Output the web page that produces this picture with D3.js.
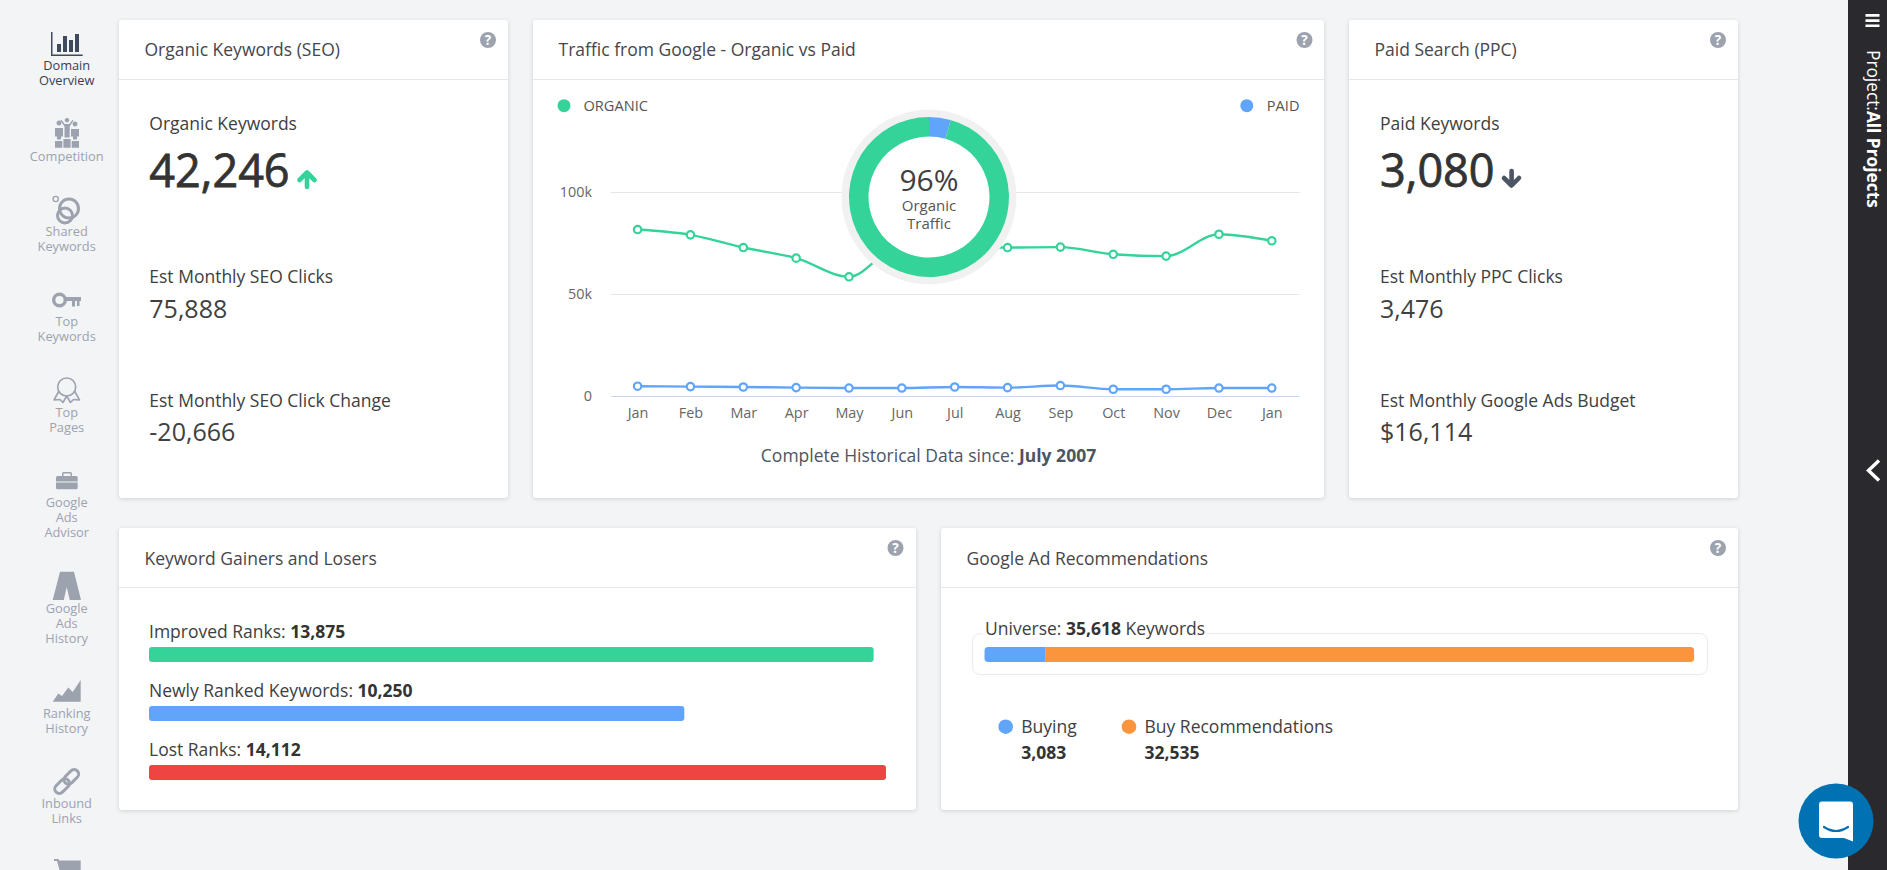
<!DOCTYPE html>
<html lang="en">

<head>
    <meta charset="UTF-8">
    <title>Domain Overview</title>
    <style>
        html, body {
            margin: 0;
            padding: 0;
            background: #f3f4f6;
            overflow: hidden;
        }

        svg {
            display: block;
            font-family: "Open Sans", sans-serif;
        }

        .card {
            fill: #fff;
            filter: drop-shadow(0 1px 2px rgba(0, 0, 0, 0.14));
        }

        .axis path {
            display: none;
        }

        .axis text {
            font-family: "Open Sans", sans-serif;
            font-size: 14.4px;
            fill: #666;
        }
    </style>
</head>

<body>
    <div id="chart"></div>

    <script src="https://d3js.org/d3.v7.min.js"></script>
    <script>
        // values
        const months = ['Jan', 'Feb', 'Mar', 'Apr', 'May', 'Jun', 'Jul', 'Aug', 'Sep', 'Oct', 'Nov', 'Dec', 'Jan'];
        const organicTraffic = [81400, 78800, 72600, 67400, 58300, 74000, 73500, 72600, 72800, 69300, 68400, 79100, 75900];
        const paidTraffic = [4800, 4600, 4400, 4100, 3900, 3900, 4400, 4100, 5100, 3300, 3300, 3900, 3900];
        const yTicks = [0, 50000, 100000];
        const donutLabels = ['paid', 'organic'];
        const donutValues = [3476, 75888];

        const rankLabels = ['Improved Ranks: ', 'Newly Ranked Keywords: ', 'Lost Ranks: '];
        const rankValues = [13875, 10250, 14112];

        const adLabels = ['Buying', 'Buy Recommendations'];
        const adValues = [3083, 32535];

        const navLabels = [
            ['Domain', 'Overview'], ['Competition'], ['Shared', 'Keywords'], ['Top', 'Keywords'], ['Top', 'Pages'],
            ['Google', 'Ads', 'Advisor'], ['Google', 'Ads', 'History'], ['Ranking', 'History'], ['Inbound', 'Links']
        ];

        const GREEN = '#34d399', BLUE = '#60a5fa', RED = '#ef4444', ORANGE = '#fb953c';
        const DARK = '#404040', GREY = '#9ca3af', SLATE = '#4b5563';
        const fmt = d3.format(',');

        const svg = d3.select('#chart').append('svg')
            .attr('width', 1887)
            .attr('height', 870);

        svg.append('rect').attr('width', 1887).attr('height', 870).attr('fill', '#f3f4f6');

        function addText(x, y, str, size, color, weight, anchor) {
            return svg.append('text')
                .attr('x', x).attr('y', y)
                .attr('font-size', size)
                .attr('fill', color || DARK)
                .attr('font-weight', weight || 400)
                .attr('text-anchor', anchor || 'start')
                .text(str);
        }

        function addCard(x0, x1, y0, y1, title, helpX, titleY) {
            svg.append('rect').attr('class', 'card')
                .attr('x', x0).attr('y', y0)
                .attr('width', x1 - x0).attr('height', y1 - y0)
                .attr('rx', 3);
            svg.append('line')
                .attr('x1', x0).attr('x2', x1)
                .attr('y1', y0 + 59.5).attr('y2', y0 + 59.5)
                .attr('stroke', '#e5e7eb');
            addText(x0 + 25.5, titleY, title, 17.5, '#46464c');
            svg.append('circle').attr('cx', helpX).attr('cy', y0 + 20).attr('r', 8).attr('fill', GREY);
            addText(helpX, y0 + 25, '?', 13.5, '#fff', 700, 'middle');
        }

        addCard(119, 508, 20, 498, 'Organic Keywords (SEO)', 488, 56);
        addCard(533, 1324, 20, 498, 'Traffic from Google - Organic vs Paid', 1304.5, 56);
        addCard(1349, 1738, 20, 498, 'Paid Search (PPC)', 1718, 56);
        addCard(119, 916, 528, 810, 'Keyword Gainers and Losers', 895.5, 565);
        addCard(941, 1738, 528, 810, 'Google Ad Recommendations', 1718, 565);

        // stat columns on both sides
        function addStats(x, items) {
            addText(x, 130, items[0], 17.5);
            // no medium weight installed, thicken the regular one a little
            addText(x, 187, items[1], 45, '#333').attr('stroke', '#333').attr('stroke-width', 0.8);
            addText(x, 283, items[2], 17.5);
            addText(x, 318, items[3], 25);
            addText(x, 407, items[4], 17.5);
            addText(x, 441, items[5], 25);
        }

        addStats(149.3, ['Organic Keywords', '42,246', 'Est Monthly SEO Clicks', '75,888', 'Est Monthly SEO Click Change', '-20,666']);
        addStats(1380, ['Paid Keywords', '3,080', 'Est Monthly PPC Clicks', '3,476', 'Est Monthly Google Ads Budget', '$16,114']);

        svg.append('path').attr('d', 'M307 187V173M299.5 180L307 172.5L314.5 180')
            .attr('fill', 'none').attr('stroke', GREEN).attr('stroke-width', 4.6).attr('stroke-linecap', 'round').attr('stroke-linejoin', 'round');
        svg.append('path').attr('d', 'M1511.6 171V185M1504 178L1511.6 185.5L1519 178')
            .attr('fill', 'none').attr('stroke', SLATE).attr('stroke-width', 4.6).attr('stroke-linecap', 'round').attr('stroke-linejoin', 'round');

        // traffic chart
        const x = d3.scalePoint().domain(d3.range(months.length)).range([637.6, 1271.8]);
        const y = d3.scaleLinear().domain([0, 100000]).range([396, 191.5]);

        svg.append('g').selectAll('line')
            .data(yTicks)
            .enter()
            .append('line')
            .attr('x1', 611).attr('x2', 1299.5)
            .attr('y1', d => Math.round(y(d)) + 0.5).attr('y2', d => Math.round(y(d)) + 0.5)
            .attr('stroke', d => d === 0 ? '#c6d8f3' : '#e6e6e6');

        svg.append('g').attr('class', 'axis')
            .attr('transform', 'translate(611,0)')
            .call(d3.axisLeft(y).tickValues(yTicks).tickSize(0).tickPadding(19)
                .tickFormat(d => d === 0 ? '0' : (d / 1000) + 'k'));

        svg.append('g').attr('class', 'axis')
            .attr('transform', 'translate(0,396)')
            .call(d3.axisBottom(x).tickSize(0).tickPadding(12).tickFormat(i => months[i]));

        const line = d3.line()
            .x((d, i) => x(i))
            .y(d => y(d))
            .curve(d3.curveMonotoneX);

        [[organicTraffic, GREEN], [paidTraffic, BLUE]].forEach(([values, color]) => {
            svg.append('path')
                .attr('d', line(values))
                .attr('fill', 'none')
                .attr('stroke', color)
                .attr('stroke-width', 2.4);
            svg.append('g').selectAll('circle')
                .data(values)
                .enter()
                .append('circle')
                .attr('cx', (d, i) => x(i))
                .attr('cy', d => y(d))
                .attr('r', 3.7)
                .attr('fill', '#fff')
                .attr('stroke', color)
                .attr('stroke-width', 2.2);
        });

        // donut over the chart
        const donut = svg.append('g').attr('transform', 'translate(929,197)');
        donut.append('circle').attr('r', 87.5).attr('fill', '#f1f1f1');
        donut.append('circle').attr('r', 80).attr('fill', '#fff');
        const pie = d3.pie().sort(null)(donutValues);
        const arc = d3.arc().innerRadius(60.5).outerRadius(80);
        donut.selectAll('path')
            .data(pie)
            .enter()
            .append('path')
            .attr('d', arc)
            .attr('fill', (d, i) => donutLabels[i] === 'paid' ? BLUE : GREEN);

        addText(929, 190.5, '96%', 30, DARK, 400, 'middle');
        addText(929, 211, 'Organic', 15, '#555', 400, 'middle');
        addText(929, 228.5, 'Traffic', 15, '#555', 400, 'middle');

        svg.append('circle').attr('cx', 564).attr('cy', 105.7).attr('r', 6.5).attr('fill', GREEN);
        addText(583.5, 111, 'ORGANIC', 14.6, '#555');
        svg.append('circle').attr('cx', 1246.8).attr('cy', 105.7).attr('r', 6.5).attr('fill', BLUE);
        addText(1299.5, 111, 'PAID', 14.6, '#555', 400, 'end');

        const footer = addText(928.5, 461.5, 'Complete Historical Data since: ', 17.5, SLATE, 400, 'middle');
        footer.append('tspan').attr('font-weight', 700).text('July 2007');

        // keyword gainers and losers
        const barX = d3.scaleLinear().domain([0, d3.max(rankValues)]).range([0, 737]);
        const barTop = [647, 706, 765];
        const barColors = [GREEN, BLUE, RED];

        rankValues.forEach((v, i) => {
            const label = addText(149, barTop[i] - 9, rankLabels[i], 17.5);
            label.append('tspan').attr('font-weight', 700).attr('fill', '#333').text(fmt(v));
        });

        svg.append('g').selectAll('rect')
            .data(rankValues)
            .enter()
            .append('rect')
            .attr('x', 149)
            .attr('y', (d, i) => barTop[i])
            .attr('width', d => barX(d))
            .attr('height', 15)
            .attr('rx', 3)
            .attr('fill', (d, i) => barColors[i]);

        // google ad recommendations
        svg.append('rect')
            .attr('x', 972.5).attr('y', 633.5)
            .attr('width', 735).attr('height', 41)
            .attr('rx', 8)
            .attr('fill', '#fff')
            .attr('stroke', '#e8eaed');

        const universe = addText(985, 635, 'Universe: ', 17.5);
        universe.append('tspan').attr('font-weight', 700).attr('fill', '#333').text(fmt(d3.sum(adValues)));
        universe.append('tspan').text(' Keywords');
        const box = universe.node().getBBox();
        svg.insert('rect', () => universe.node())
            .attr('x', box.x - 2).attr('y', 630)
            .attr('width', box.width + 4).attr('height', 8)
            .attr('fill', '#fff');

        const adX = d3.scaleLinear().domain([0, d3.sum(adValues)]).range([984.3, 1694.3]);
        svg.append('defs').append('clipPath').attr('id', 'ad-clip')
            .append('rect')
            .attr('x', 984.3).attr('y', 647)
            .attr('width', 710).attr('height', 15)
            .attr('rx', 4);

        const adColors = [BLUE, ORANGE];
        svg.append('g').attr('clip-path', 'url(#ad-clip)').selectAll('rect')
            .data(adValues)
            .enter()
            .append('rect')
            .attr('x', (d, i) => adX(d3.sum(adValues.slice(0, i))))
            .attr('y', 647)
            .attr('width', d => adX(d) - adX(0))
            .attr('height', 15)
            .attr('fill', (d, i) => adColors[i]);

        const legendX = [1005.7, 1129];
        adValues.forEach((v, i) => {
            svg.append('circle').attr('cx', legendX[i]).attr('cy', 726.7).attr('r', 7.3).attr('fill', adColors[i]);
            addText(legendX[i] + 15.5, 732.5, adLabels[i], 17.5);
            addText(legendX[i] + 15.5, 758.5, fmt(v), 17.5, '#333', 700);
        });

        // left navigation
        const navBaselines = [70, 160.7, 235.7, 326, 416.7, 506.7, 612.7, 717.7, 807.7];
        navLabels.forEach((lines, i) => {
            lines.forEach((str, j) => {
                addText(66.7, navBaselines[i] + j * 15, str, 12.8, i === 0 ? '#374151' : GREY, 400, 'middle');
            });
        });

        const iconDark = '#3f4a5c';
        const domain = svg.append('g').attr('fill', iconDark);
        domain.append('path').attr('d', 'M51 32h1.5v22.5H82.7v1.5H51z');
        domain.append('path').attr('d', 'M57 44h4v8h-4zM63 36h4v16h-4zM69 40h4v12h-4zM75 34h4v18h-4z');

        svg.append('path').attr('fill', GREY).attr('d',
            'M59 125.5a2.5 2.5 0 1 1 0.01 0zM55 128h8v8.5h-2v3h-4v-3h-2z' +
            'M75 126.5a2.5 2.5 0 1 1 0.01 0zM71 129h8v7.5h-2v3h-4v-3h-2z' +
            'M67 122.5a2.3 2.3 0 1 1 0.01 0zM60.5 120.5l1.2-.5 3 4h4.6l3-4 1.2.5-3.8 6v11h-5.2v-11z' +
            'M55 141h7.3v6.7H55zM63.4 139h7.2v8.7h-7.2zM71.7 141H79v6.7h-7.3z');

        svg.append('circle').attr('cx', 55.7).attr('cy', 199).attr('r', 2.6).attr('fill', 'none').attr('stroke', GREY).attr('stroke-width', 1.4);
        svg.append('circle').attr('cx', 69).attr('cy', 208.5).attr('r', 9.5).attr('fill', 'none').attr('stroke', GREY).attr('stroke-width', 3);
        svg.append('circle').attr('cx', 65).attr('cy', 215.5).attr('r', 7.5).attr('fill', 'none').attr('stroke', GREY).attr('stroke-width', 3);

        svg.append('circle').attr('cx', 59.5).attr('cy', 300).attr('r', 5.8).attr('fill', 'none').attr('stroke', GREY).attr('stroke-width', 3.4);
        svg.append('path').attr('fill', GREY).attr('d', 'M65 297h16v4h-1.5v5h-2.5v-5h-2v5.5h-3v-5.5h-7z');

        svg.append('circle').attr('cx', 66.7).attr('cy', 387).attr('r', 9).attr('fill', 'none').attr('stroke', GREY).attr('stroke-width', 1.6);
        svg.append('path').attr('fill', 'none').attr('stroke', GREY).attr('stroke-width', 1.6).attr('stroke-linejoin', 'round')
            .attr('d', 'M59 391L54 400L60 399.5L63 402.5L66.7 396L70.5 402.5L73.5 399.5L79.5 400L74.5 391');

        svg.append('path').attr('fill', GREY).attr('d',
            'M56 477.5a1.5 1.5 0 0 1 1.5-1.5H62v-2.5a1.5 1.5 0 0 1 1.5-1.5h7a1.5 1.5 0 0 1 1.5 1.5V476h4.2a1.5 1.5 0 0 1 1.5 1.5v4H56z' +
            'M63.5 473.5v2.5h7v-2.5zM56 482.5h21.7v5.3a1.5 1.5 0 0 1-1.5 1.5H57.5a1.5 1.5 0 0 1-1.5-1.5z');

        svg.append('path').attr('fill', GREY).attr('d', 'M60 571.7H74L81 600H69.8L66.7 587L63.8 600H52.7z');
        svg.append('path').attr('fill', GREY).attr('d', 'M52.7 701.7L58.3 693.5L62 696L68.3 687.5L72.7 692L80.7 680V701.7z');

        const link = svg.append('g').attr('transform', 'translate(66.7,781.5) rotate(-45)')
            .attr('fill', 'none').attr('stroke', GREY).attr('stroke-width', 3);
        link.append('rect').attr('x', -15).attr('y', -4.5).attr('width', 17).attr('height', 9).attr('rx', 4.5);
        link.append('rect').attr('x', -2).attr('y', -4.5).attr('width', 17).attr('height', 9).attr('rx', 4.5);

        svg.append('path').attr('fill', GREY).attr('d', 'M54 859h4.5l.8 1.5H80.7V870H59.5L57 861H54z');

        // right side bar
        svg.append('rect').attr('x', 1848).attr('width', 39).attr('height', 870).attr('fill', '#2a2a2e');
        svg.append('path').attr('fill', '#fff').attr('d', 'M1865.5 14h14v2.7h-14zM1865.5 19.2h14v2.7h-14zM1865.5 24.4h14v2.7h-14z');

        const project = svg.append('text')
            .attr('transform', 'translate(1866.5,50) rotate(90)')
            .attr('font-size', 17.3)
            .attr('fill', '#fff')
            .text('Project:');
        project.append('tspan').attr('font-weight', 700).text('All Projects');

        svg.append('path').attr('d', 'M1879 460.5L1868.5 470.5L1879 480.5')
            .attr('fill', 'none').attr('stroke', '#fff').attr('stroke-width', 3.4);

        // chat button
        svg.append('circle').attr('cx', 1836).attr('cy', 821).attr('r', 37.5).attr('fill', '#0071b2');
        svg.append('path').attr('fill', '#fff')
            .attr('d', 'M1822 801.5H1850a3 3 0 0 1 3 3V841.5L1844 838H1822a3 3 0 0 1-3-3V804.5a3 3 0 0 1 3-3z');
        svg.append('path').attr('d', 'M1824 827Q1836 835 1848 827')
            .attr('fill', 'none').attr('stroke', '#0071b2').attr('stroke-width', 2.2).attr('stroke-linecap', 'round');
    </script>
</body>

</html>
